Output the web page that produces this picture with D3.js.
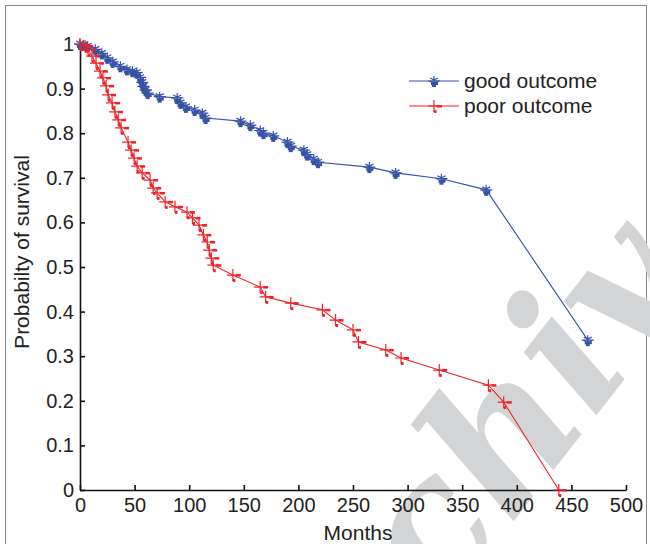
<!DOCTYPE html>
<html>
<head>
<meta charset="utf-8">
<script src="https://cdn.jsdelivr.net/npm/d3@7"></script>
<style>
  body { margin: 0; background: #fff; }
  svg { display: block; font-family: "Liberation Sans", Arial, sans-serif; }
</style>
</head>
<body>
<div id="chart"></div>
<script>
// Datos (meses, probabilidad)
const goodMonths = [0, 3, 7, 14, 20, 25, 30, 37, 43, 48, 52, 55, 57, 58, 60, 62, 73, 89, 92, 97, 105, 112, 115, 147, 156, 165, 168, 177, 190, 193, 205, 208, 214, 218, 265, 289, 331, 372, 465];
const goodSurv   = [1, 0.998, 0.995, 0.988, 0.979, 0.969, 0.96, 0.95, 0.943, 0.939, 0.936, 0.925, 0.914, 0.905, 0.897, 0.89, 0.882, 0.879, 0.868, 0.859, 0.852, 0.845, 0.834, 0.827, 0.818, 0.806, 0.8, 0.794, 0.78, 0.771, 0.762, 0.752, 0.742, 0.735, 0.724, 0.711, 0.698, 0.673, 0.336];

const poorMonths = [0, 4.6, 7.3, 11, 14.7, 18.3, 21, 23.9, 25.7, 29.4, 32, 35, 37.6, 44, 46.8, 49.5, 52.3, 56.9, 64.2, 67, 70.6, 78, 87, 98, 103, 109, 113, 116.5, 118.3, 120.2, 122, 140, 165, 170, 193, 222, 234, 250, 255, 280, 294, 329, 374, 388, 438.5];
const poorSurv   = [1, 0.996, 0.987, 0.973, 0.957, 0.939, 0.924, 0.906, 0.886, 0.868, 0.848, 0.83, 0.812, 0.78, 0.762, 0.744, 0.726, 0.711, 0.695, 0.677, 0.666, 0.646, 0.635, 0.623, 0.61, 0.594, 0.572, 0.556, 0.538, 0.52, 0.504, 0.482, 0.455, 0.433, 0.419, 0.404, 0.381, 0.359, 0.332, 0.314, 0.296, 0.269, 0.235, 0.197, 0];

const xTicks = [0, 50, 100, 150, 200, 250, 300, 350, 400, 450, 500];
const yTicks = [0, 0.1, 0.2, 0.3, 0.4, 0.5, 0.6, 0.7, 0.8, 0.9, 1];
const seriesNames = ["good outcome", "poor outcome"];

const width = 650, height = 544;
const blue = "#3553a6", red = "#ee2228";

const svg = d3.select("#chart").append("svg")
    .attr("width", width)
    .attr("height", height);

// marco gris de la figura
svg.append("rect")
    .attr("x", 5.5).attr("y", 5.5)
    .attr("width", 641).attr("height", 560)
    .attr("fill", "none").attr("stroke", "#8a8a8a").attr("stroke-width", 1);

// marca de agua
svg.append("text")
    .attr("transform", "translate(292,805) rotate(-52)")
    .attr("font-family", "DejaVu Serif, serif")
    .attr("font-style", "italic")
    .attr("font-weight", "bold")
    .attr("font-size", 185)
    .attr("fill", "#d3d4d6")
    .text("Archive");

const x = d3.scaleLinear().domain([0, 500]).range([80, 626]);
const y = d3.scaleLinear().domain([0, 1]).range([490, 44]);

// ejes
const xAxis = svg.append("g")
    .attr("transform", `translate(0,${y(0)})`)
    .call(d3.axisBottom(x).tickValues(xTicks).tickSizeInner(-5).tickSizeOuter(0).tickPadding(8).tickFormat(d => d));
const yAxis = svg.append("g")
    .attr("transform", `translate(${x(0)},0)`)
    .call(d3.axisLeft(y).tickValues(yTicks).tickSizeInner(-5).tickSizeOuter(0).tickPadding(6).tickFormat(d => d));

[xAxis, yAxis].forEach(g => {
    g.select(".domain").attr("stroke", "#111").attr("stroke-width", 1.6);
    g.selectAll(".tick line").attr("stroke", "#111").attr("stroke-width", 1.6);
    g.selectAll(".tick text")
        .attr("font-family", "Liberation Sans, Arial, sans-serif")
        .attr("font-size", 20).attr("fill", "#222");
});
xAxis.selectAll(".tick text").attr("dy", "0.72em");

svg.append("text")
    .attr("x", 358).attr("y", 540)
    .attr("text-anchor", "middle")
    .attr("font-size", 21).attr("fill", "#222")
    .text("Months");

svg.append("text")
    .attr("transform", "translate(29,252) rotate(-90)")
    .attr("text-anchor", "middle")
    .attr("font-size", 21).attr("fill", "#222")
    .text("Probabilty of survival");

// marcadores
function blueMarker(g, cx, cy) {
    const m = g.append("g").attr("transform", `translate(${cx},${cy})`);
    m.append("path")
        .attr("d", "M0,-5V3M-4,-3L4,1M4,-3L-4,1M-6,0H6")
        .attr("stroke", blue).attr("stroke-width", 1.2).attr("fill", "none");
    m.append("rect").attr("x", -3).attr("y", 1).attr("width", 7).attr("height", 3).attr("fill", blue);
    m.append("rect").attr("x", -2).attr("y", 3).attr("width", 4).attr("height", 3).attr("fill", blue);
}
function redMarker(g, cx, cy) {
    const m = g.append("g").attr("transform", `translate(${cx},${cy})`);
    m.append("path")
        .attr("d", "M0,-6V6M-6,0H6")
        .attr("stroke", red).attr("stroke-width", 1.2).attr("fill", "none");
    m.append("rect").attr("x", 3).attr("y", -1).attr("width", 5).attr("height", 2.5).attr("fill", red);
    m.append("rect").attr("x", 0).attr("y", 4).attr("width", 2.5).attr("height", 3).attr("fill", red);
}

const line = d3.line().x(d => x(d[0])).y(d => y(d[1]));

const series = [
    { months: goodMonths, surv: goodSurv, color: blue, marker: blueMarker },
    { months: poorMonths, surv: poorSurv, color: red, marker: redMarker }
];

series.forEach(s => {
    const pts = s.months.map((m, i) => [m, s.surv[i]]);
    svg.append("path")
        .datum(pts)
        .attr("d", line)
        .attr("fill", "none")
        .attr("stroke", s.color)
        .attr("stroke-width", 1.1);
    const mg = svg.append("g");
    pts.forEach(p => s.marker(mg, x(p[0]), y(p[1])));
});

// leyenda
const legend = svg.append("g");
seriesNames.forEach((name, i) => {
    const ly = 81 + i * 25;
    legend.append("line")
        .attr("x1", 409).attr("x2", 459).attr("y1", ly).attr("y2", ly)
        .attr("stroke", series[i].color).attr("stroke-width", 1.1);
    series[i].marker(legend, 434, ly);
    legend.append("text")
        .attr("x", 464).attr("y", ly + 7)
        .attr("font-size", 21).attr("fill", "#222")
        .text(name);
});
</script>
</body>
</html>
